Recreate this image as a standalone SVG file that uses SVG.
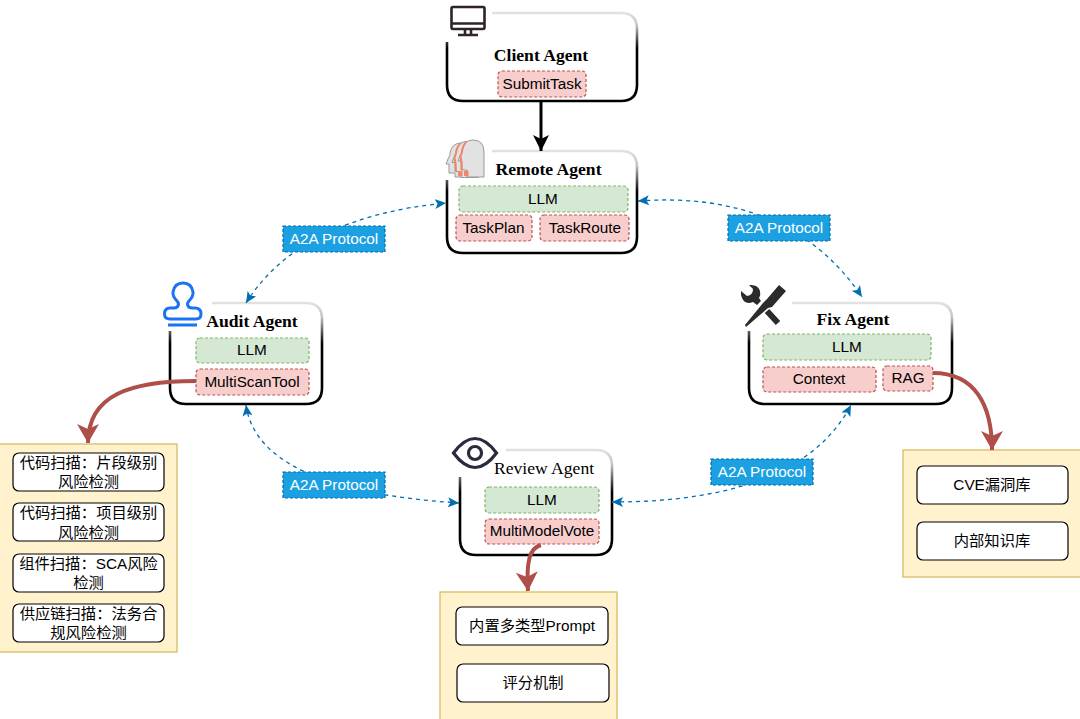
<svg xmlns="http://www.w3.org/2000/svg" width="1080" height="719" viewBox="0 0 1080 719">
<style>
text{font-family:"Liberation Sans","Noto Sans CJK SC",sans-serif;font-size:15.300px;fill:#000;text-anchor:middle}
.title{font-family:"Liberation Serif","Noto Serif",serif;font-size:17.600px;font-weight:bold}
.reg{font-weight:normal}
.card{fill:none;stroke:url(#cardStroke);stroke-width:2.600;stroke-linecap:butt}
.llm{fill:#d5e8d4;stroke:#82b366;stroke-width:1.2;stroke-dasharray:3 2}
.tool{fill:#f8cecc;stroke:#b85450;stroke-width:1.2;stroke-dasharray:3 2}
.panel{fill:#fff2cc;stroke:#d6b656;stroke-width:1.2}
.item{fill:#fff;stroke:#000;stroke-width:1.2}
.a2a{fill:#1ba1e2;stroke:#006eaf;stroke-width:1.2;stroke-dasharray:3 2}
.a2at{fill:#fff}
.link{fill:none;stroke:#006eaf;stroke-width:1.3;stroke-dasharray:4 4;marker-start:url(#blueS);marker-end:url(#blueE)}
.res{fill:none;stroke:#ae4f4a;stroke-width:4;marker-end:url(#red)}
.head{fill:#e2e2e2;stroke:#999;stroke-width:1}
.face{fill:none;stroke:#f0866a;stroke-width:2}
</style>
<defs>
<linearGradient id="cardStroke" x1="0" y1="0" x2="0" y2="1">
<stop offset="0" stop-color="#e2e2e2"/><stop offset="0.14" stop-color="#c4c4c4"/><stop offset="0.4" stop-color="#000"/>
</linearGradient>
<marker id="blueE" markerUnits="userSpaceOnUse" markerWidth="14" markerHeight="12" refX="11" refY="5" orient="auto"><path d="M0 0L11 5L0 10L2.500 5Z" fill="#006eaf"/></marker>
<marker id="blueS" markerUnits="userSpaceOnUse" markerWidth="14" markerHeight="12" refX="0" refY="5" orient="auto"><path d="M11 0L0 5L11 10L8.500 5Z" fill="#006eaf"/></marker>
<marker id="red" markerUnits="userSpaceOnUse" markerWidth="22" markerHeight="24" refX="19" refY="11" orient="auto"><path d="M0 0L19 11L0 22L5 11Z" fill="#ae4f4a"/></marker>
<marker id="blk" markerUnits="userSpaceOnUse" markerWidth="20" markerHeight="20" refX="16" refY="8" orient="auto"><path d="M0 0L16 8L0 16L4 8Z" fill="#000"/></marker>
</defs>
<rect width="1080" height="719" fill="#fff"/>

<g id="scan-panel">
<rect class="panel" x="-1" y="444" width="178" height="208"/>
<rect class="item" x="13" y="453" width="151" height="38" rx="6"/><text x="88.500" y="468">代码扫描：片段级别</text><text x="88.500" y="487">风险检测</text>
<rect class="item" x="13" y="503" width="151" height="38" rx="6"/><text x="88.500" y="518">代码扫描：项目级别</text><text x="88.500" y="538">风险检测</text>
<rect class="item" x="13" y="554" width="151" height="38" rx="6"/><text x="88.500" y="569">组件扫描：SCA风险</text><text x="88.500" y="588">检测</text>
<rect class="item" x="13" y="604" width="151" height="38" rx="6"/><text x="88.500" y="619">供应链扫描：法务合</text><text x="88.500" y="638">规风险检测</text>
</g>

<g id="kb-panel">
<rect class="panel" x="903" y="450" width="178" height="127"/>
<rect class="item" x="917" y="466" width="151" height="38" rx="6"/><text x="992" y="490">CVE漏洞库</text>
<rect class="item" x="917" y="522" width="151" height="38" rx="6"/><text x="992" y="546">内部知识库</text>
</g>

<g id="prompt-panel">
<rect class="panel" x="440" y="592" width="177" height="128"/>
<rect class="item" x="456" y="607" width="152" height="38" rx="6"/><text x="532" y="631">内置多类型Prompt</text>
<rect class="item" x="457" y="664" width="152" height="38" rx="6"/><text x="533" y="688">评分机制</text>
</g>

<g id="client-agent">
<path class="card" d="M447 42V85Q447 101 463 101H621Q637 101 637 85V29Q637 13 621 13H492"/>
<g fill="none" stroke="#2f2426" stroke-width="2.600"><rect x="451.500" y="7" width="33" height="22" rx="1.500"/><path d="M452 23.500H484M465 29V34M471 29V34M458 35H478"/></g>
<text class="title" x="541" y="61">Client Agent</text>
<rect class="tool" x="498" y="71" width="88" height="26" rx="4"/><text x="542" y="89">SubmitTask</text>
</g>

<g id="remote-agent">
<path class="card" d="M447 180V237Q447 253 463 253H621Q637 253 637 237V167Q637 151 621 151H492"/>
<path class="head" transform="translate(-12 3)" d="M484 174V152Q484 140 473 140Q465 140 462.500 148Q462 153 460 156L458 161H461V170H467V174Z"/>
<path class="head" transform="translate(-6 1.500)" d="M484 176V152Q484 140 473 140Q465 140 462.500 148Q462 153 460 156L458 161H461V170H467V176Z"/>
<path class="face" transform="translate(-6 1.500)" d="M466 142Q463 146 462.500 149Q462 153 460.500 156Q462 162 462 170"/>
<path class="head" d="M484 177V152Q484 140 473 140Q465 140 462.500 148Q462 153 460 156L458 161H461V170H467V177Z"/>
<path class="face" d="M466 142Q463 146 462.500 149Q462 153 460.500 156Q462 162 462 170"/>
<path d="M458 171h4.500v5h-4.500zM464 171h4.500v5h-4.500z" fill="#f0866a"/>
<text class="title" x="548.500" y="175">Remote Agent</text>
<rect class="llm" x="459" y="186" width="169" height="26" rx="4"/><text x="543" y="204">LLM</text>
<rect class="tool" x="456" y="215" width="76" height="26" rx="4"/><text x="493.500" y="233">TaskPlan</text>
<rect class="tool" x="540" y="215" width="89" height="26" rx="4"/><text x="585" y="233">TaskRoute</text>
</g>

<g id="audit-agent">
<path class="card" d="M170 331V388Q170 404 186 404H306Q322 404 322 388V319Q322 303 306 303H212"/>
<path d="M170 319H196Q201 319 201 314Q201 308 195 308H192C188 308 186 304 189 301C192 298 193.500 296 193 292C192 286 188 283 183 283C178 283 174 286 173 292C172.500 296 174 298 177 301C180 304 178 308 174 308H170Q164.500 308 164.500 314Q164.500 319 170 319ZM168 325H197" fill="none" stroke="#1a73f0" stroke-width="3"/>
<text class="title" x="252" y="327">Audit Agent</text>
<rect class="llm" x="196" y="338" width="113" height="25" rx="4"/><text x="252" y="355">LLM</text>
<rect class="tool" x="196" y="369" width="113" height="26" rx="4"/><text x="252" y="387">MultiScanTool</text>
</g>

<g id="fix-agent">
<path class="card" d="M749 331V388Q749 404 765 404H936Q952 404 952 388V319Q952 303 936 303H792"/>
<path d="M779 285L786 291L772 307L768 308L746 327L745 325L763 303L767 299Z" fill="#2b2b2b"/>
<path d="M767 311L778 323" fill="none" stroke="#2b2b2b" stroke-width="6"/>
<path d="M741 291L747 296Q753 295 753 289L749 285Q758 284 760 291Q761 295 759 298L761 301L757 305L753 302Q745 305 742 298Q740.500 295 741 291Z" fill="#2b2b2b"/>
<text class="title" x="853" y="325">Fix Agent</text>
<rect class="llm" x="763" y="334" width="168" height="26" rx="4"/><text x="847" y="352">LLM</text>
<rect class="tool" x="763" y="367" width="113" height="25" rx="4"/><text x="819" y="384">Context</text>
<rect class="tool" x="883" y="366" width="50" height="25" rx="4"/><text x="908" y="383">RAG</text>
</g>

<g id="review-agent">
<path class="card" d="M460 477V539Q460 555 476 555H596Q612 555 612 539V466Q612 450 596 450H506"/>
<g fill="none" stroke="#2b2b40" stroke-width="3.200"><path d="M453.500 453Q475 424 496.500 453Q475 482 453.500 453Z"/><circle cx="475" cy="453" r="6.500"/></g>
<text class="title reg" x="544" y="474">Review Agent</text>
<rect class="llm" x="485" y="487" width="114" height="26" rx="4"/><text x="542" y="505">LLM</text>
<rect class="tool" x="485" y="519" width="114" height="25" rx="4"/><text x="542" y="536">MultiModelVote</text>
</g>

<g id="connectors">
<path d="M541 101V151" fill="none" stroke="#000" stroke-width="3" marker-end="url(#blk)"/>
<path class="link" d="M246 303Q300 217 446 203"/>
<path class="link" d="M638 201Q790 190 862 297"/>
<path class="link" d="M246 405Q258 490 459 503"/>
<path class="link" d="M612 502Q800 502 851 405"/>
<path class="res" d="M196 381C130 381 88 395 88 443"/>
<path class="res" d="M933 373C975 373 992 405 992 450"/>
<path class="res" d="M541 545C530 548 526 560 528 591"/>
</g>

<g id="a2a-1"><rect class="a2a" x="283" y="226" width="102" height="26"/><text class="a2at" x="334" y="244">A2A Protocol</text></g>
<g id="a2a-2"><rect class="a2a" x="728" y="215" width="102" height="26"/><text class="a2at" x="779" y="233">A2A Protocol</text></g>
<g id="a2a-3"><rect class="a2a" x="283" y="472" width="102" height="26"/><text class="a2at" x="334" y="490">A2A Protocol</text></g>
<g id="a2a-4"><rect class="a2a" x="711" y="459" width="102" height="26"/><text class="a2at" x="762" y="477">A2A Protocol</text></g>
</svg>
